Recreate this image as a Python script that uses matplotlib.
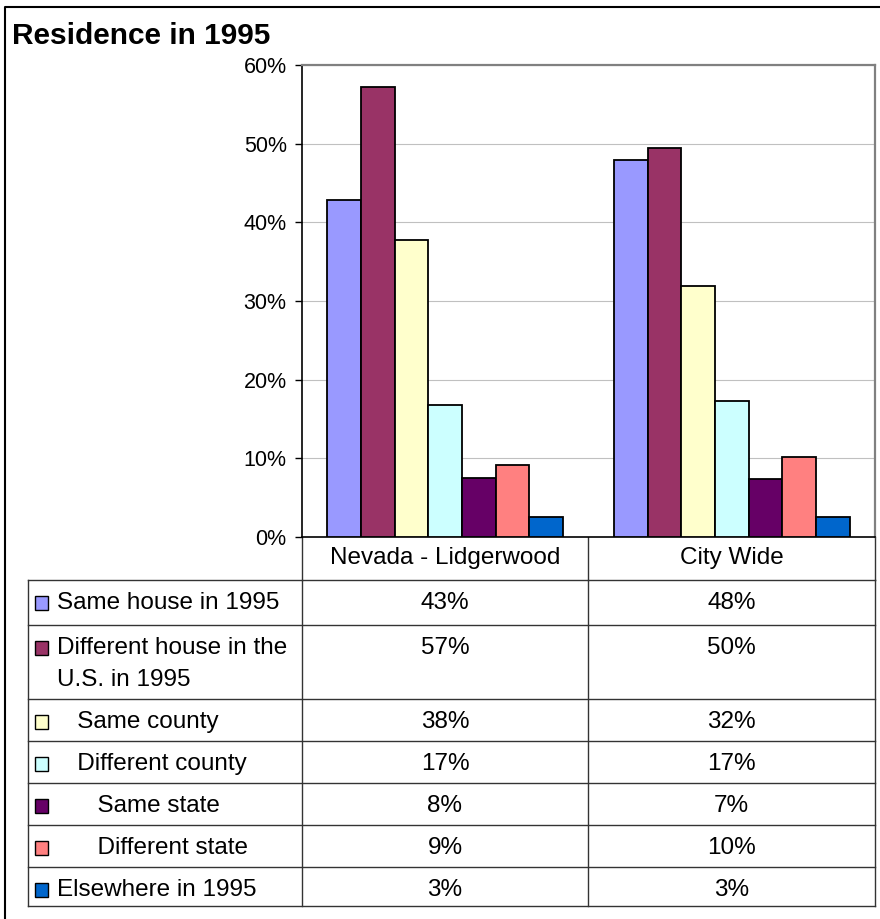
"""Residence in 1995: grouped bars with an Excel-style data table below."""

import matplotlib
matplotlib.use("Agg")
from matplotlib import pyplot as plt
from matplotlib.patches import Rectangle
import numpy as np

plt.rcParams['font.family'] = ['Liberation Sans', 'DejaVu Sans']

title = "Residence in 1995"
groups = ["Nevada - Lidgerwood", "City Wide"]
series_labels = [
    "Same house in 1995",
    "Different house in the\nU.S. in 1995",
    "   Same county",
    "   Different county",
    "      Same state",
    "      Different state",
    "Elsewhere in 1995",
]
series_colors = ["#9999FF", "#993366", "#FFFFCC", "#CCFFFF", "#660066", "#FF8080", "#0066CC"]
nevada = [42.8, 57.2, 37.8, 16.8, 7.5, 9.2, 2.6]
city_wide = [47.9, 49.5, 31.9, 17.3, 7.4, 10.2, 2.6]
y_ticks = [0, 10, 20, 30, 40, 50, 60]

W, H = 880, 919
fig = plt.figure(figsize=(W / 100, H / 100), dpi=100)

# full-figure pixel frame for title, border and table
frame = fig.add_axes([0, 0, 1, 1], zorder=0)
frame.set_xlim(0, W)
frame.set_ylim(H, 0)
frame.axis('off')

# plot area
plot_l, plot_r, plot_t, plot_b = 302, 875, 65, 537
ax = fig.add_axes([plot_l / W, 1 - plot_b / H, (plot_r - plot_l) / W, (plot_b - plot_t) / H], zorder=1)

values = np.array([nevada, city_wide]).T
x = np.arange(len(groups))
n = len(series_labels)
bw = 0.1176
for i in range(n):
    ax.bar(x + (i - (n - 1) / 2) * bw, values[i], bw,
           color=series_colors[i], edgecolor='black', linewidth=1.3, zorder=3)

ax.set_xlim(-0.5, len(groups) - 0.5)
ax.set_ylim(0, 60)
ax.set_yticks(y_ticks, [f"{t}%" for t in y_ticks])
ax.set_xticks(x, groups)
ax.tick_params(axis='x', length=0, pad=7, labelsize=17.5)
ax.tick_params(axis='y', direction='out', length=5, width=1, labelsize=15.5, pad=6)
ax.yaxis.grid(True, color='#c0c0c0', linewidth=0.8)
ax.set_axisbelow(True)
for side in ['left', 'bottom']:
    ax.spines[side].set_color('black')
    ax.spines[side].set_linewidth(1.2)
for side in ['top', 'right']:
    ax.spines[side].set_color('#808080')
    ax.spines[side].set_linewidth(1.6)

# title and outer border
frame.text(12, 36, title, fontsize=21.5, fontweight='bold', va='center', ha='left')
frame.plot([5, 5, W], [H, 7, 7], color='black', linewidth=1.5)

# data table
rows = [580, 625, 699, 741, 783, 825, 867, 906]
cols = [28, 302, 588, 875]
line_kw = dict(color='#333333', linewidth=1.0)
for cx in cols[1:]:
    frame.plot([cx, cx], [plot_b, rows[0]], **line_kw)
for cx in cols:
    frame.plot([cx, cx], [rows[0], rows[-1]], **line_kw)
for ry in rows:
    frame.plot([cols[0], cols[-1]], [ry, ry], **line_kw)

col_centers = [(cols[1] + cols[2]) / 2, (cols[2] + cols[3]) / 2]
for i, label in enumerate(series_labels):
    top = rows[i]
    cy = top + 23
    frame.add_patch(Rectangle((35, cy - 7), 13, 14, facecolor=series_colors[i],
                              edgecolor='black', linewidth=1.0))
    for j, line in enumerate(label.split('\n')):
        frame.text(57, cy + 32 * j, line, fontsize=17.5, va='center', ha='left')
    for k in range(len(groups)):
        frame.text(col_centers[k], cy, f"{values[i][k]:.0f}%", fontsize=17.5,
                   va='center', ha='center')

fig.savefig("out.png", dpi=100)
